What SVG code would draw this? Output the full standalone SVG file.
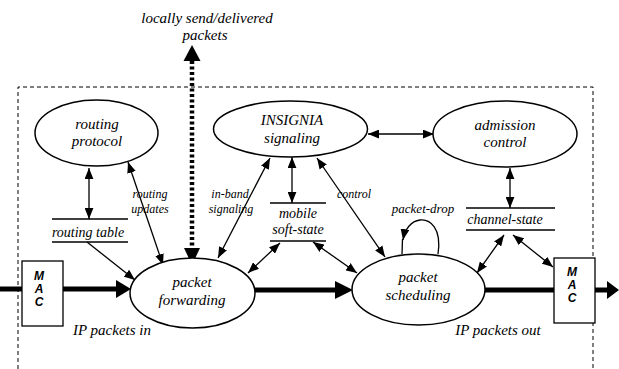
<svg xmlns="http://www.w3.org/2000/svg" width="619" height="369" viewBox="0 0 619 369">
<style>
text{font-family:"Liberation Serif","Times New Roman",serif;font-style:italic;fill:#000;text-anchor:middle}
.big{font-size:15px}
.mid{font-size:14px}
.sm{font-size:12px}
.mac{font-family:"Liberation Sans",Arial,sans-serif;font-weight:bold;font-size:12px}
.ell{fill:#fff;stroke:#000;stroke-width:1.5}
.box{fill:#fff;stroke:#000;stroke-width:1.3}
.bar{stroke:#000;stroke-width:1.3}
.thin{stroke:#000;stroke-width:1.3;fill:none}
.dbl{marker-start:url(#ah);marker-end:url(#ah)}
.one{marker-end:url(#ah)}
.thick{stroke:#000;stroke-width:5}
.frame{stroke:#000;stroke-width:1;stroke-dasharray:4 3;fill:none}
</style>
<defs>
<marker id="ah" markerUnits="userSpaceOnUse" viewBox="0 0 10 8" refX="10" refY="4" markerWidth="11" markerHeight="9" orient="auto-start-reverse">
<path d="M0,0 L10,4 L0,8 z" fill="#000"/>
</marker>
</defs>
<rect width="619" height="369" fill="#fff"/>
<g id="frame">
<path class="frame" d="M18,369 V87 H593 V369"/>
</g>
<g id="connectors">
<line class="thin dbl" x1="89" y1="168" x2="89" y2="219"/>
<line class="thin dbl" x1="128" y1="162" x2="163" y2="265"/>
<line class="thin one" x1="87" y1="242" x2="135" y2="280"/>
<line class="thin dbl" x1="270" y1="158" x2="218" y2="258"/>
<line class="thin dbl" x1="292" y1="157" x2="292" y2="203"/>
<line class="thin dbl" x1="317" y1="158" x2="385" y2="257"/>
<line class="thin dbl" x1="280" y1="243" x2="248" y2="273"/>
<line class="thin dbl" x1="313" y1="242" x2="357" y2="273"/>
<line class="thin dbl" x1="368" y1="134" x2="434" y2="134"/>
<line class="thin dbl" x1="510" y1="168" x2="510" y2="208"/>
<line class="thin dbl" x1="504" y1="235" x2="477" y2="273"/>
<line class="thin dbl" x1="513" y1="235" x2="553" y2="267"/>
<path class="thin one" d="M438,254 C442,228 430,219 420,220 C411,221 405,229 403,240"/>
<line class="thin" x1="402.5" y1="239" x2="402" y2="254"/>
<line class="thick" x1="0" y1="289" x2="22" y2="289"/>
<line class="thick" x1="63" y1="289" x2="117" y2="289"/>
<polygon points="116,280 131,289 116,298" fill="#000"/>
<line class="thick" x1="255" y1="290" x2="337" y2="290"/>
<polygon points="335,281 353,290 335,299" fill="#000"/>
<line class="thick" x1="485" y1="290" x2="554" y2="290"/>
<line class="thick" x1="595" y1="290" x2="608" y2="290"/>
<polygon points="607,281 619,290 607,299" fill="#000"/>
<line x1="192" y1="61" x2="192" y2="249" stroke="#000" stroke-width="4.5" stroke-dasharray="3 2.5"/>
<polygon points="183.5,61 192,45 200.5,61" fill="#000"/>
<polygon points="184,248 192,265 200,248" fill="#000"/>
</g>
<g id="routing-protocol">
<ellipse class="ell" cx="96.5" cy="133" rx="61.5" ry="33"/>
<text class="big" x="97" y="129">routing</text>
<text class="big" x="97" y="146">protocol</text>
</g>
<g id="insignia">
<ellipse class="ell" cx="290.5" cy="129" rx="77" ry="28"/>
<text class="big" x="292" y="125">INSIGNIA</text>
<text class="big" x="292" y="143">signaling</text>
</g>
<g id="admission-control">
<ellipse class="ell" cx="505" cy="134" rx="72" ry="33"/>
<text class="big" x="505" y="130">admission</text>
<text class="big" x="505" y="147">control</text>
</g>
<g id="packet-forwarding">
<ellipse class="ell" cx="192.5" cy="293" rx="62.5" ry="35"/>
<text class="big" x="192" y="287">packet</text>
<text class="big" x="192" y="305">forwarding</text>
</g>
<g id="packet-scheduling">
<ellipse class="ell" cx="418.5" cy="289.5" rx="66.5" ry="35.5"/>
<text class="big" x="418" y="282">packet</text>
<text class="big" x="418" y="300">scheduling</text>
</g>
<g id="routing-table">
<line class="bar" x1="52" y1="219" x2="128" y2="219"/>
<line class="bar" x1="52" y1="242" x2="128" y2="242"/>
<text class="mid" x="88" y="237">routing table</text>
</g>
<g id="mobile-soft-state">
<line class="bar" x1="270" y1="203" x2="326" y2="203"/>
<line class="bar" x1="270" y1="241" x2="326" y2="241"/>
<text class="mid" x="298" y="218">mobile</text>
<text class="mid" x="298" y="234">soft-state</text>
</g>
<g id="channel-state">
<line class="bar" x1="466" y1="208" x2="555" y2="208"/>
<line class="bar" x1="466" y1="230" x2="555" y2="230"/>
<text class="mid" x="505" y="224">channel-state</text>
</g>
<g id="mac-in">
<rect class="box" x="22" y="261" width="41" height="65"/>
<text class="mac" x="39" y="280">M</text>
<text class="mac" x="39" y="293">A</text>
<text class="mac" x="39" y="306">C</text>
</g>
<g id="mac-out">
<rect class="box" x="554" y="258" width="41" height="65"/>
<text class="mac" x="572" y="276">M</text>
<text class="mac" x="572" y="289">A</text>
<text class="mac" x="572" y="302">C</text>
</g>
<g id="labels">
<text class="big" x="207" y="23">locally send/delivered</text>
<text class="big" x="205" y="40">packets</text>
<text class="sm" x="150" y="198">routing</text>
<text class="sm" x="150" y="213">updates</text>
<text class="sm" x="230" y="198">in-band</text>
<text class="sm" x="231" y="213">signaling</text>
<text class="sm" x="354" y="198">control</text>
<text class="sm" x="423" y="213" style="font-size:13px">packet-drop</text>
<text class="big" x="112" y="335">IP packets in</text>
<text class="big" x="498" y="335">IP packets out</text>
</g>
</svg>
